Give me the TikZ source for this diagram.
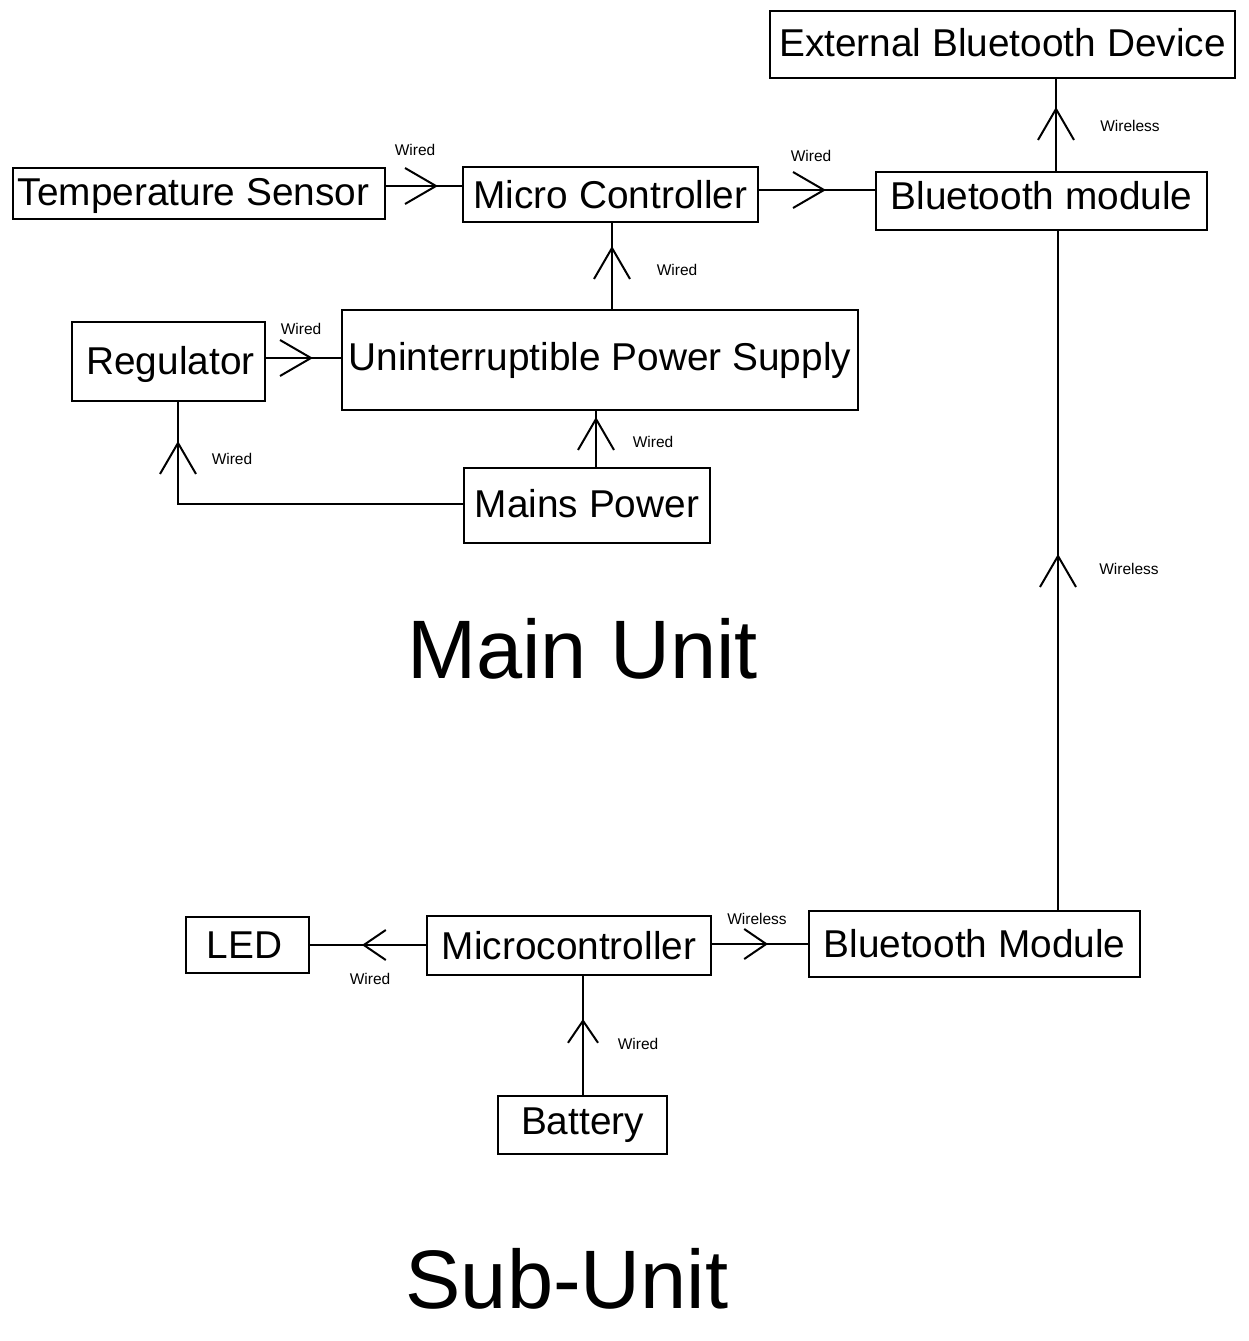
\documentclass[tikz,border=0pt]{standalone}
\usepackage{fontspec}
\setmainfont{Liberation Sans}
\usetikzlibrary{arrows.meta,decorations.markings}
\newcommand{\shiftup}[2]{\raisebox{#1}[\height][\depth]{#2}}
\begin{document}
\begin{tikzpicture}[x=1pt,y=-1pt,
  box/.style={draw, line width=2pt, inner sep=0pt, font=\fontsize{38.8}{40}\selectfont},
  lbl/.style={inner sep=0pt, font=\fontsize{15.5}{17}\selectfont},
  big/.style={inner sep=0pt, anchor=base, font=\fontsize{83}{90}\selectfont},
  wire/.style={line width=2pt},
  bigv/.style={postaction={decorate}, decoration={markings, mark=at position #1 with {\arrow{Straight Barb[length=31pt,width=36pt]}}}},
  smallv/.style={postaction={decorate}, decoration={markings, mark=at position #1 with {\arrow{Straight Barb[length=22pt,width=30pt]}}}}
]
\useasboundingbox (0,0) rectangle (1249,1341);

% Main unit
\node[box, minimum width=465, minimum height=67] (ext) at (1002.5,44.5) {\shiftup{2pt}{External Bluetooth Device}};
\node[box, minimum width=372, minimum height=51] (temp) at (199,193.5) {\hspace*{-11pt}\shiftup{-2pt}{Temperature Sensor}};
\node[box, minimum width=295, minimum height=55] (mc) at (610.5,194.5) {Micro Controller};
\node[box, minimum width=331, minimum height=58] (btm) at (1041.5,201) {\shiftup{5pt}{Bluetooth module}};
\node[box, minimum width=193, minimum height=79] (reg) at (168.5,361.5) {\hspace*{4pt}\shiftup{-3pt}{Regulator}};
\node[box, minimum width=516, minimum height=100] (ups) at (600,360) {Uninterruptible Power Supply};
\node[box, minimum width=246, minimum height=75] (mains) at (587,505.5) {\shiftup{2pt}{Mains Power}};
\node[big] (mainlbl) at (582.5,678) {Main Unit};

% Sub unit
\node[box, minimum width=123, minimum height=56] (led) at (247.5,945) {\hspace*{-6pt}LED};
\node[box, minimum width=284, minimum height=59] (mcs) at (569,945.5) {Microcontroller};
\node[box, minimum width=331, minimum height=66] (bts) at (974.5,944) {Bluetooth Module};
\node[box, minimum width=169, minimum height=58] (bat) at (582.5,1125) {Battery};
\node[big] (sublbl) at (567,1308) {Sub-Unit};

% Connectors
\draw[wire, bigv=52pt] (temp.east |- 0,186) -- (mc.west |- 0,186);
\draw[wire, bigv=67pt] (mc.east |- 0,190) -- (btm.west |- 0,190);
\draw[wire, bigv=63pt] (ups.north -| 612,0) -- (mc.south -| 612,0);
\draw[wire, bigv=47pt] (reg.east |- 0,358) -- (ups.west |- 0,358);
\draw[wire, bigv=50pt] (mains.north -| 596,0) -- (ups.south -| 596,0);
\draw[wire, bigv=348pt] (mains.west |- 0,504) -| (reg.south -| 178,0);
\draw[wire, bigv=64pt] (btm.north -| 1056,0) -- (ext.south -| 1056,0);
\draw[wire, bigv=356pt] (bts.north -| 1058,0) -- (btm.south -| 1058,0);
\draw[wire, smallv=64pt] (mcs.west |- 0,945) -- (led.east |- 0,945);
\draw[wire, smallv=56pt] (mcs.east |- 0,944) -- (bts.west |- 0,944);
\draw[wire, smallv=76pt] (bat.north -| 583,0) -- (mcs.south -| 583,0);

% Connector labels
\node[lbl] (w1) at (415,150) {Wired};
\node[lbl] (w2) at (811,156) {Wired};
\node[lbl] (w3) at (677,270) {Wired};
\node[lbl] (w4) at (301,329) {Wired};
\node[lbl] (w5) at (653,442) {Wired};
\node[lbl] (w6) at (232,459) {Wired};
\node[lbl] (w7) at (1130,126) {Wireless};
\node[lbl] (w8) at (1129,569) {Wireless};
\node[lbl] (w9) at (370,979) {Wired};
\node[lbl] (w10) at (757,919) {Wireless};
\node[lbl] (w11) at (638,1044) {Wired};
\end{tikzpicture}
\end{document}
